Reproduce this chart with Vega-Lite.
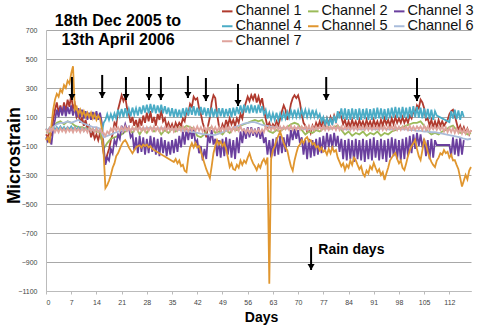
{
"$schema": "https://vega.github.io/schema/vega-lite/v6.json",
"width": 425, "height": 261,
"autosize": {"type": "none"},
"padding": {"left": 46, "top": 30, "right": 29, "bottom": 35},
"background": "white",
"config": {"view": {"stroke": null}, "font": "Liberation Sans"},
"title": {"text": ["18th Dec 2005 to", "13th April 2006"], "anchor": "start", "frame": "group", "align": "center", "dx": 72, "dy": 44, "offset": 0, "fontSize": 16, "fontWeight": "bold", "lineHeight": 19, "color": "black", "font": "Liberation Sans"},
"datasets": {
"strain": [
{"d":0,"1":-20,"2":0,"3":-40,"4":20,"5":-60,"6":10,"7":20},
{"d":0.5,"1":-40,"3":-70,"4":5,"5":-40,"7":-5},
{"d":1,"1":0,"2":-10,"3":-50,"4":25,"5":-80,"6":0,"7":25},
{"d":1.5,"1":-20,"3":-90,"4":10,"5":40,"7":0},
{"d":2,"1":80,"2":30,"3":20,"4":30,"5":150,"6":30,"7":25},
{"d":2.5,"1":150,"3":80,"4":10,"5":220,"7":-5},
{"d":3,"1":200,"2":60,"3":150,"4":30,"5":260,"6":50,"7":20},
{"d":3.5,"1":130,"3":100,"4":15,"5":240,"7":-5},
{"d":4,"1":180,"2":70,"3":170,"4":35,"5":290,"6":60,"7":25},
{"d":4.5,"1":120,"3":110,"4":15,"5":270,"7":0},
{"d":5,"1":200,"2":50,"3":175,"4":30,"5":320,"6":60,"7":20},
{"d":5.5,"1":140,"3":105,"4":10,"5":300,"7":-5},
{"d":6,"1":220,"2":70,"3":170,"4":30,"5":350,"6":70,"7":25},
{"d":6.5,"1":170,"3":120,"4":15,"5":330,"7":0},
{"d":7,"1":250,"2":60,"3":180,"4":35,"5":400,"6":60,"7":20},
{"d":7.5,"1":160,"3":110,"4":15,"5":450,"7":-5},
{"d":8,"1":190,"2":40,"3":165,"4":30,"5":150,"6":70,"7":25},
{"d":8.5,"1":100,"3":100,"4":10,"5":170,"7":0},
{"d":9,"1":130,"2":30,"3":160,"4":30,"5":120,"6":80,"7":20},
{"d":9.5,"1":60,"3":100,"4":10,"5":150,"7":-5},
{"d":10,"1":100,"2":30,"3":150,"4":25,"5":110,"6":60,"7":25},
{"d":10.5,"1":40,"3":90,"4":5,"5":140,"7":0},
{"d":11,"1":80,"2":20,"3":140,"4":25,"5":100,"6":50,"7":20},
{"d":11.5,"1":20,"3":80,"4":5,"5":130,"7":-5},
{"d":12,"1":40,"2":20,"3":130,"4":20,"5":100,"6":40,"7":25},
{"d":12.5,"1":-40,"3":80,"4":0,"5":130,"7":0},
{"d":13,"1":0,"2":10,"3":135,"4":20,"5":90,"6":30,"7":20},
{"d":13.5,"1":-50,"3":85,"4":0,"5":120,"7":-5},
{"d":14,"1":-20,"2":0,"3":140,"4":20,"5":80,"6":30,"7":20},
{"d":14.5,"1":-60,"3":80,"4":0,"5":110,"7":-5},
{"d":15,"1":-10,"2":0,"3":130,"4":15,"5":90,"6":20,"7":15},
{"d":15.5,"1":-60,"3":60,"4":-10,"5":20,"7":-10},
{"d":16,"1":-150,"2":-120,"3":-100,"4":60,"5":-150,"6":-40,"7":-10},
{"d":16.5,"1":-210,"3":-230,"4":80,"5":-390,"7":-30},
{"d":17,"1":-160,"2":-80,"3":-180,"4":120,"5":-370,"6":-30,"7":0},
{"d":17.5,"1":-120,"3":-200,"4":80,"5":-340,"7":-15},
{"d":18,"1":-60,"2":-50,"3":-120,"4":120,"5":-300,"6":-20,"7":20},
{"d":18.5,"1":-20,"3":-150,"4":85,"5":-250,"7":0},
{"d":19,"1":60,"2":-40,"3":-60,"4":125,"5":-220,"6":-10,"7":30},
{"d":19.5,"1":40,"3":-90,"4":90,"5":-170,"7":5},
{"d":20,"1":150,"2":-30,"3":-20,"4":150,"5":-150,"6":0,"7":30},
{"d":20.5,"1":200,"3":-50,"4":105,"5":-120,"7":5},
{"d":21,"1":250,"2":-20,"3":40,"4":155,"5":-90,"6":10,"7":30},
{"d":21.5,"1":210,"3":0,"4":100,"5":-70,"7":5},
{"d":22,"1":240,"2":0,"3":50,"4":160,"5":-60,"6":10,"7":35},
{"d":22.5,"1":160,"3":10,"4":110,"5":-80,"7":5},
{"d":23,"1":120,"2":20,"3":30,"4":155,"5":-110,"6":15,"7":30},
{"d":23.5,"1":60,"3":-40,"4":105,"5":-130,"7":0},
{"d":24,"1":100,"2":-10,"3":-20,"4":165,"5":-150,"6":15,"7":30},
{"d":24.5,"1":40,"3":-130,"4":115,"5":-130,"7":5},
{"d":25,"1":80,"2":30,"3":-40,"4":160,"5":-110,"6":20,"7":30},
{"d":25.5,"1":20,"3":-150,"4":110,"5":-100,"7":5},
{"d":26,"1":90,"2":-20,"3":-30,"4":170,"5":-95,"6":20,"7":35},
{"d":26.5,"1":40,"3":-140,"4":120,"5":-110,"7":5},
{"d":27,"1":110,"2":20,"3":-40,"4":180,"5":-90,"6":20,"7":30},
{"d":27.5,"1":60,"3":-160,"4":130,"5":-100,"7":0},
{"d":28,"1":130,"2":-10,"3":-50,"4":185,"5":-90,"6":25,"7":30},
{"d":28.5,"1":70,"3":-150,"4":125,"5":-110,"7":5},
{"d":29,"1":140,"2":30,"3":-30,"4":190,"5":-100,"6":25,"7":30},
{"d":29.5,"1":60,"3":-140,"4":130,"5":-120,"7":5},
{"d":30,"1":100,"2":0,"3":-40,"4":185,"6":20,"7":35},
{"d":30.5,"1":40,"3":-160,"4":125,"7":5},
{"d":31,"1":120,"2":20,"3":-50,"4":180,"6":20,"7":30},
{"d":31.5,"1":80,"3":-170,"4":130,"7":0},
{"d":32,"1":150,"2":-20,"3":-40,"4":185,"6":25,"7":30},
{"d":32.5,"1":70,"3":-150,"4":125,"7":5},
{"d":33,"1":90,"2":10,"3":-60,"4":175,"6":20,"7":30},
{"d":33.5,"1":30,"3":-170,"4":120,"7":5},
{"d":34,"1":60,"2":-10,"3":-70,"4":165,"6":20,"7":35},
{"d":34.5,"1":20,"3":-160,"4":105,"7":5},
{"d":35,"1":50,"2":20,"3":-60,"4":160,"6":15,"7":30},
{"d":35.5,"1":10,"3":-150,"4":100,"5":-210,"7":0},
{"d":36,"1":60,"2":0,"3":-50,"4":155,"5":-190,"6":15,"7":30},
{"d":36.5,"1":30,"3":-140,"4":100,"5":-220,"7":5},
{"d":37,"1":60,"2":30,"3":-30,"4":150,"5":-200,"6":10,"7":30},
{"d":37.5,"1":40,"3":-110,"4":95,"5":-240,"7":5},
{"d":38,"1":90,"2":20,"3":0,"4":160,"5":-230,"6":10,"7":35},
{"d":38.5,"1":70,"3":-90,"4":105,"5":-270,"7":5},
{"d":39,"1":140,"2":40,"3":20,"4":165,"5":-280,"6":5,"7":30},
{"d":39.5,"1":120,"3":-60,"4":110,"5":-180,"7":0},
{"d":40,"1":190,"2":30,"3":30,"4":170,"5":-110,"6":0,"7":30},
{"d":40.5,"1":170,"3":-50,"4":115,"5":-80,"7":5},
{"d":41,"1":240,"2":20,"3":10,"4":175,"5":-110,"6":-5,"7":30},
{"d":41.5,"1":220,"3":-80,"4":110,"5":-80,"7":5},
{"d":42,"1":230,"2":-30,"3":-60,"4":165,"5":-110,"6":-10,"7":35},
{"d":42.5,"1":160,"3":-150,"4":110,"5":-100,"7":5},
{"d":43,"1":120,"2":-40,"3":-100,"4":170,"5":-140,"6":-15,"7":30},
{"d":43.5,"1":60,"3":-200,"4":115,"5":-180,"7":0},
{"d":44,"1":20,"2":-20,"3":-120,"4":165,"5":-220,"6":-20,"7":30},
{"d":44.5,"1":-40,"3":-190,"4":105,"5":-260,"7":5},
{"d":45,"1":40,"2":20,"3":-20,"4":160,"5":-290,"6":-20,"7":30},
{"d":45.5,"1":100,"3":-80,"4":100,"5":-320,"7":5},
{"d":46,"1":200,"2":30,"3":10,"4":165,"5":-240,"6":-25,"7":35},
{"d":46.5,"1":250,"3":-90,"4":100,"5":-150,"7":5},
{"d":47,"1":230,"2":-10,"3":-50,"4":155,"5":-100,"6":-24,"7":30},
{"d":47.5,"1":120,"3":-170,"4":100,"5":-60,"7":0},
{"d":48,"1":40,"2":0,"3":-60,"4":160,"5":-90,"6":-15,"7":30},
{"d":48.5,"1":0,"3":-180,"4":105,"5":-70,"7":5},
{"d":49,"1":50,"2":-20,"3":-50,"4":160,"5":-100,"6":-5,"7":30},
{"d":49.5,"1":20,"3":-170,"4":100,"5":-80,"7":5},
{"d":50,"1":80,"2":10,"3":-40,"4":155,"5":-120,"6":5,"7":35},
{"d":50.5,"1":40,"3":-160,"4":105,"5":-180,"7":5},
{"d":51,"1":90,"2":-10,"3":-50,"4":160,"5":-245,"6":15,"7":30},
{"d":51.5,"1":50,"3":-180,"4":100,"5":-220,"7":0},
{"d":52,"1":80,"2":20,"3":-60,"4":165,"5":-260,"6":25,"7":30},
{"d":52.5,"1":40,"3":-190,"4":110,"5":-266,"7":5},
{"d":53,"1":90,"2":10,"3":-40,"4":170,"5":-230,"6":35,"7":30},
{"d":53.5,"1":60,"3":-150,"4":120,"5":-250,"7":5},
{"d":54,"1":120,"2":40,"3":0,"4":180,"5":-200,"6":45,"7":35},
{"d":54.5,"1":90,"3":-80,"4":125,"5":-230,"7":5},
{"d":55,"1":160,"2":50,"3":20,"4":185,"5":-200,"6":55,"7":15},
{"d":55.5,"1":200,"3":-50,"4":130,"5":-217,"7":-10},
{"d":56,"1":240,"2":60,"3":30,"4":180,"5":-180,"6":60,"7":15},
{"d":56.5,"1":210,"3":-40,"4":125,"5":-150,"7":-10},
{"d":57,"1":250,"2":70,"3":30,"4":185,"5":-190,"6":65,"7":15},
{"d":57.5,"1":220,"3":-30,"4":130,"5":-220,"7":-10},
{"d":58,"1":260,"2":80,"3":20,"4":180,"5":-240,"6":65,"7":10},
{"d":58.5,"1":200,"3":-40,"4":125,"5":-266,"7":-10},
{"d":59,"1":240,"2":70,"3":30,"4":185,"5":-230,"6":55,"7":15},
{"d":59.5,"1":190,"3":-50,"4":130,"5":-250,"7":-10},
{"d":60,"1":230,"2":80,"3":10,"4":175,"5":-210,"6":45,"7":15},
{"d":60.5,"1":150,"3":-80,"4":120,"5":-190,"7":-5},
{"d":61,"1":90,"2":30,"3":-40,"4":150,"5":-220,"6":40,"7":35},
{"d":61.5,"1":30,"3":-160,"4":90,"5":-180,"7":10},
{"d":62,"1":60,"2":0,"3":-60,"4":130,"5":-1050,"6":35,"7":35},
{"d":62.5,"1":20,"3":-180,"4":80,"5":-190,"7":10},
{"d":63,"1":50,"2":-10,"3":-50,"4":125,"5":-130,"6":30,"7":35},
{"d":63.5,"1":30,"3":-170,"4":80,"5":-100,"7":10},
{"d":64,"1":70,"2":10,"3":-40,"4":130,"5":-60,"6":30,"7":40},
{"d":64.5,"1":40,"3":-160,"4":80,"5":-30,"7":10},
{"d":65,"1":90,"2":0,"3":-30,"4":125,"5":0,"6":25,"7":35},
{"d":65.5,"1":140,"3":-150,"4":85,"5":-40,"7":10},
{"d":66,"1":180,"2":20,"3":-40,"4":130,"5":-80,"6":25,"7":35},
{"d":66.5,"1":150,"3":-140,"4":90,"5":-110,"7":15},
{"d":67,"1":80,"2":30,"3":-20,"4":135,"5":-130,"6":20,"7":35},
{"d":67.5,"1":120,"3":-100,"4":95,"5":-190,"7":10},
{"d":68,"1":190,"2":50,"3":10,"4":145,"5":-240,"6":20,"7":40},
{"d":68.5,"1":230,"3":-60,"4":100,"5":-270,"7":10},
{"d":69,"1":250,"2":60,"3":20,"4":150,"5":-200,"6":25,"7":35},
{"d":69.5,"1":230,"3":-50,"4":100,"5":-150,"7":10},
{"d":70,"1":250,"2":50,"3":10,"4":145,"5":-107,"6":25,"7":35},
{"d":70.5,"1":200,"3":-80,"4":100,"5":-90,"7":10},
{"d":71,"1":120,"2":10,"3":-40,"4":150,"5":-60,"6":20,"7":35},
{"d":71.5,"1":60,"3":-160,"4":105,"5":-80,"7":15},
{"d":72,"1":40,"2":-20,"3":-60,"4":150,"5":-50,"6":15,"7":35},
{"d":72.5,"1":0,"3":-190,"4":100,"5":-38,"7":10},
{"d":73,"1":30,"2":0,"3":-50,"4":145,"5":-70,"6":15,"7":40},
{"d":73.5,"1":-10,"3":-180,"4":100,"5":-60,"7":10},
{"d":74,"1":40,"2":-10,"3":-60,"4":150,"5":-90,"6":20,"7":35},
{"d":74.5,"1":10,"3":-170,"4":100,"5":-80,"7":10},
{"d":75,"1":60,"2":10,"3":-50,"4":140,"5":-110,"6":20,"7":35},
{"d":75.5,"1":30,"3":-160,"4":95,"5":-100,"7":15},
{"d":76,"1":70,"2":0,"3":-40,"4":120,"5":-130,"6":25,"7":35},
{"d":76.5,"1":30,"3":-150,"4":70,"5":-110,"7":10},
{"d":77,"1":80,"2":20,"3":-30,"4":100,"5":-140,"6":25,"7":40},
{"d":77.5,"1":40,"3":-130,"4":50,"5":-130,"7":10},
{"d":78,"1":90,"2":30,"3":-10,"4":90,"5":-160,"6":20,"7":35},
{"d":78.5,"1":50,"3":-110,"4":40,"5":-120,"7":10},
{"d":79,"1":100,"2":20,"3":-20,"4":95,"5":-150,"6":20,"7":35},
{"d":79.5,"1":60,"3":-120,"4":45,"5":-110,"7":15},
{"d":80,"1":110,"2":30,"3":-10,"4":110,"5":-140,"6":25,"7":35},
{"d":80.5,"1":70,"3":-100,"4":60,"5":-128,"7":10},
{"d":81,"1":120,"2":40,"3":-30,"4":140,"5":-180,"6":25,"7":40},
{"d":81.5,"1":130,"3":-140,"4":90,"5":-210,"7":10},
{"d":82,"1":100,"2":10,"3":-50,"4":160,"5":-240,"6":20,"7":35},
{"d":82.5,"1":50,"3":-190,"4":85,"5":-220,"7":10},
{"d":83,"1":80,"2":-20,"3":-60,"4":160,"5":-266,"6":15,"7":35},
{"d":83.5,"1":30,"3":-200,"4":80,"5":-230,"7":15},
{"d":84,"1":70,"2":0,"3":-50,"4":155,"5":-250,"6":15,"7":35},
{"d":84.5,"1":30,"3":-190,"4":80,"5":-200,"7":10},
{"d":85,"1":80,"2":-30,"3":-60,"4":160,"5":-230,"6":20,"7":40},
{"d":85.5,"1":40,"3":-210,"4":85,"5":-180,"7":10},
{"d":86,"1":70,"2":-10,"3":-50,"4":155,"5":-197,"6":20,"7":35},
{"d":86.5,"1":30,"3":-190,"4":80,"5":-230,"7":10},
{"d":87,"1":80,"2":-20,"3":-60,"4":160,"5":-260,"6":15,"7":35},
{"d":87.5,"1":40,"3":-200,"4":80,"5":-240,"7":15},
{"d":88,"1":70,"2":0,"3":-50,"4":155,"5":-290,"6":15,"7":35},
{"d":88.5,"1":30,"3":-210,"4":85,"5":-310,"7":10},
{"d":89,"1":80,"2":-30,"3":-60,"4":160,"5":-270,"6":20,"7":40},
{"d":89.5,"1":40,"3":-190,"4":80,"5":-290,"7":10},
{"d":90,"1":70,"2":-10,"3":-50,"4":155,"5":-240,"6":20,"7":35},
{"d":90.5,"1":30,"3":-200,"4":80,"5":-260,"7":10},
{"d":91,"1":80,"2":-20,"3":-40,"4":160,"5":-217,"6":15,"7":35},
{"d":91.5,"1":40,"3":-180,"4":85,"5":-250,"7":15},
{"d":92,"1":70,"2":0,"3":-60,"4":165,"5":-280,"6":15,"7":35},
{"d":92.5,"1":30,"3":-200,"4":90,"5":-260,"7":10},
{"d":93,"1":80,"2":-30,"3":-50,"4":160,"5":-300,"6":20,"7":40},
{"d":93.5,"1":40,"3":-190,"4":85,"5":-280,"7":10},
{"d":94,"1":90,"2":-10,"3":-60,"4":155,"5":-334,"6":20,"7":35},
{"d":94.5,"1":50,"3":-210,"4":80,"5":-290,"7":10},
{"d":95,"1":80,"2":-20,"3":-50,"4":160,"5":-250,"6":15,"7":35},
{"d":95.5,"1":40,"3":-180,"4":90,"5":-200,"7":15},
{"d":96,"1":90,"2":0,"3":-40,"4":165,"5":-180,"6":15,"7":35},
{"d":96.5,"1":50,"3":-170,"4":95,"5":-160,"7":10},
{"d":97,"1":100,"2":10,"3":-50,"4":170,"5":-148,"6":20,"7":40},
{"d":97.5,"1":60,"3":-190,"4":95,"5":-190,"7":10},
{"d":98,"1":90,"2":20,"3":-60,"4":165,"5":-220,"6":20,"7":35},
{"d":98.5,"1":60,"3":-200,"4":90,"5":-200,"7":10},
{"d":99,"1":100,"2":30,"3":-50,"4":170,"5":-250,"6":15,"7":35},
{"d":99.5,"1":60,"3":-190,"4":95,"5":-266,"7":15},
{"d":100,"1":90,"2":40,"3":-40,"4":165,"5":-220,"6":15,"7":35},
{"d":100.5,"1":60,"3":-170,"4":90,"5":-170,"7":10},
{"d":101,"1":110,"2":50,"3":-30,"4":170,"5":-130,"6":10,"7":40},
{"d":101.5,"1":90,"3":-150,"4":100,"5":-100,"7":10},
{"d":102,"1":140,"2":60,"3":-20,"4":175,"5":-80,"6":10,"7":35},
{"d":102.5,"1":120,"3":-120,"4":100,"5":-59,"7":10},
{"d":103,"1":180,"2":60,"3":-10,"4":170,"5":-120,"6":5,"7":35},
{"d":103.5,"1":160,"3":-100,"4":95,"5":-170,"7":15},
{"d":104,"1":220,"2":70,"3":-20,"4":165,"5":-197,"6":5,"7":35},
{"d":104.5,"1":200,"3":-110,"4":90,"5":-130,"7":10},
{"d":105,"1":160,"2":40,"3":-50,"4":160,"5":-59,"6":0,"7":40},
{"d":105.5,"1":80,"3":-170,"4":90,"5":-90,"7":10},
{"d":106,"1":90,"2":0,"3":-60,"4":155,"5":-140,"6":0,"7":35},
{"d":106.5,"1":40,"3":-190,"4":85,"5":-180,"7":10},
{"d":107,"1":80,"2":-20,"3":-50,"4":150,"5":-210,"6":-5,"7":35},
{"d":107.5,"1":30,"3":-180,"4":80,"5":-230,"7":15},
{"d":108,"1":70,"2":-10,"3":-60,"4":140,"5":-245,"6":-5,"7":35},
{"d":108.5,"1":30,"3":-93,"4":110,"5":-200,"7":10},
{"d":109,"1":80,"2":-20,"5":-180,"6":-10,"7":35},
{"d":109.5,"1":40,"5":-150,"7":10},
{"d":110,"1":70,"2":0,"5":-160,"6":-15,"7":35},
{"d":110.5,"1":40,"5":-128,"7":0},
{"d":111,"1":60,"2":10,"5":-150,"6":-20,"7":30},
{"d":111.5,"1":80,"5":-140,"7":-5},
{"d":112,"1":120,"2":30,"3":-93,"4":65,"5":-180,"6":-25,"7":25},
{"d":112.5,"1":140,"3":-170,"4":140,"5":-160,"7":-5},
{"d":113,"1":150,"2":40,"3":-40,"4":90,"5":-200,"6":-30,"7":25},
{"d":113.5,"1":110,"3":-160,"4":150,"5":-197,"7":-10},
{"d":114,"1":60,"2":10,"3":-50,"4":85,"5":-230,"6":-35,"7":20},
{"d":114.5,"1":10,"3":-170,"4":145,"5":-260,"7":-10},
{"d":115,"1":40,"2":-10,"3":-40,"4":80,"5":-320,"6":-40,"7":20},
{"d":115.5,"1":0,"3":-160,"4":140,"5":-380,"7":-15},
{"d":116,"1":30,"2":0,"3":-60,"4":100,"5":-340,"6":-50,"7":15},
{"d":116.5,"1":-10,"5":-300,"7":-15},
{"d":117,"1":20,"2":-20,"5":-330,"6":-55,"7":15},
{"d":117.5,"1":-20,"5":-270,"7":-15},
{"d":118,"1":10,"2":-10,"5":-245,"6":-50,"7":10}
],
"arrows": [
{"day":7.2,"top":376,"tip":217},
{"day":15.6,"top":390,"tip":231},
{"day":22.2,"top":376,"tip":217},
{"day":28.6,"top":376,"tip":217},
{"day":31.9,"top":376,"tip":217},
{"day":39.4,"top":383,"tip":231},
{"day":44.4,"top":369,"tip":210},
{"day":53.3,"top":328,"tip":176},
{"day":77.8,"top":376,"tip":217},
{"day":103,"top":369,"tip":210},
{"day":73.6,"top":-797,"tip":-955}
],
"notes": [
{"day":75.6,"v":-817,"label":"Rain days"}
]
},
"layer": [
{
"data": {"name": "strain"},
"transform": [
{"fold": ["1","2","3","4","5","6","7"], "as": ["ch","v"]},
{"filter": "isValid(datum.v)"}
],
"mark": {"type": "line", "strokeWidth": 1.8, "interpolate": "linear"},
"encoding": {
"x": {"field": "d", "type": "quantitative", "title": "Days",
"scale": {"domain": [0, 118], "nice": false, "zero": false},
"axis": {"values": [0,7,14,21,28,35,42,49,56,63,70,77,84,91,98,105,112], "format": "d", "tickCount": 40, "labelOverlap": false, "grid": false, "labelFontSize": 7, "labelColor": "#444", "labelFont": "Liberation Sans", "tickColor": "#bbb", "tickSize": 3, "domainColor": "#bbb", "labelPadding": 4, "titleFontSize": 14, "titleFontWeight": "bold", "titleColor": "black", "titleX": 215, "titleY": 26, "titleBaseline": "middle", "titleFont": "Liberation Sans"}},
"y": {"field": "v", "type": "quantitative", "title": "Microstrain",
"scale": {"domain": [-1100, 700], "nice": false, "zero": false},
"axis": {"values": [-1100,-900,-700,-500,-300,-100,100,300,500,700], "format": "d", "tickCount": 40, "labelOverlap": false, "labelFlush": false, "grid": true, "gridColor": "#a8a8a8", "gridWidth": 1, "ticks": false, "labelFontSize": 7, "labelColor": "#444", "labelFont": "Liberation Sans", "domainColor": "#bbb", "labelPadding": 9, "titleFontSize": 18, "titleFontWeight": "bold", "titleColor": "black", "titleX": -32, "titleY": 125, "titleAngle": -90, "titleAlign": "center", "titleBaseline": "middle", "titleFont": "Liberation Sans"}},
"color": {"field": "ch", "type": "nominal",
"scale": {"domain": ["1","2","3","4","5","6","7"], "range": ["#B03A2E","#9BBB59","#6A3F9E","#4BACC6","#E0962F","#A9BCDB","#DFA39C"]},
"legend": {"orient": "none", "direction": "horizontal", "legendX": 174, "legendY": -26, "columns": 3, "symbolType": "stroke", "symbolSize": 110, "symbolStrokeWidth": 2, "labelFontSize": 14.5, "labelColor": "#111", "labelFont": "Liberation Sans", "labelOffset": 1, "columnPadding": 2, "rowPadding": 0, "title": null, "labelExpr": "'Channel ' + datum.label"}}
}
},
{
"data": {"name": "arrows"},
"mark": {"type": "rule", "strokeWidth": 2, "color": "black"},
"encoding": {
"x": {"field": "day", "type": "quantitative", "title": "Days"},
"y": {"field": "top", "type": "quantitative", "title": "Microstrain"},
"y2": {"field": "tip"}
}
},
{
"data": {"name": "arrows"},
"mark": {"type": "point", "shape": "triangle-down", "filled": true, "color": "black", "opacity": 1, "size": 50, "yOffset": -3},
"encoding": {
"x": {"field": "day", "type": "quantitative", "title": "Days"},
"y": {"field": "tip", "type": "quantitative", "title": "Microstrain"}
}
},
{
"data": {"name": "notes"},
"mark": {"type": "text", "align": "left", "baseline": "middle", "fontSize": 14, "fontWeight": "bold", "color": "black", "font": "Liberation Sans"},
"encoding": {
"x": {"field": "day", "type": "quantitative", "title": "Days"},
"y": {"field": "v", "type": "quantitative", "title": "Microstrain"},
"text": {"field": "label"}
}
}
]
}
